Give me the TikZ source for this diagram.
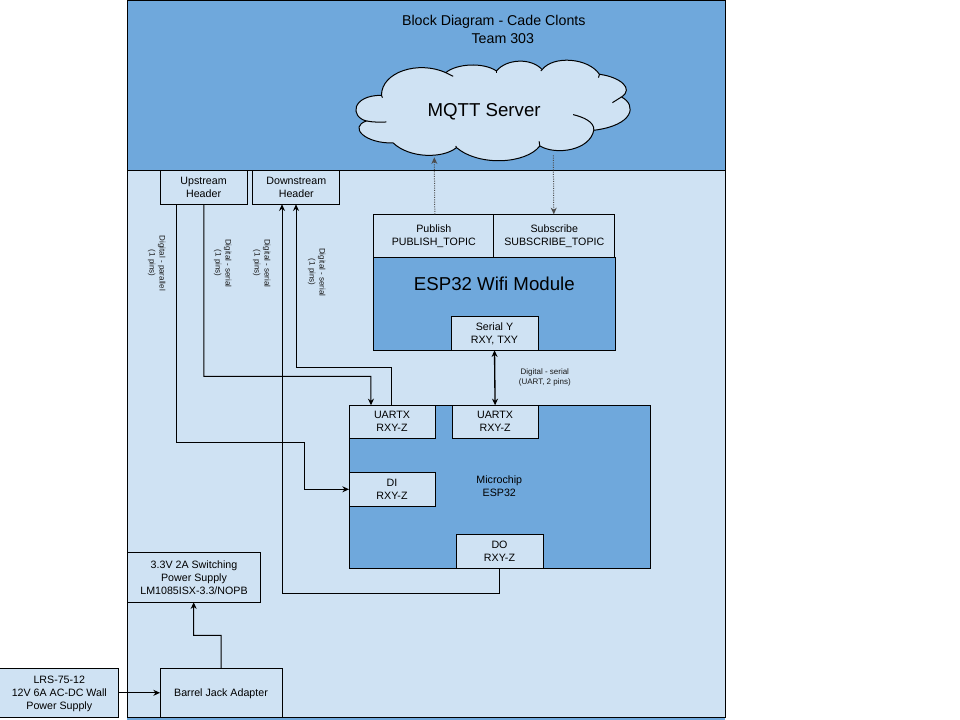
\documentclass[tikz,border=0pt]{standalone}
\usepackage{fontspec}
\setmainfont{Liberation Sans}
\usetikzlibrary{arrows.meta, calc}
\definecolor{band_dark}{HTML}{6FA8DC}
\definecolor{band_light}{HTML}{CFE2F3}
\tikzset{
    box_light/.style={
        rectangle, draw=black, line width=0.75pt, fill=band_light,
        inner sep=0pt, outer sep=0pt,
        align=center, font=\fontsize{8}{9.75}\selectfont
    },
    box_dark/.style={
        box_light, fill=band_dark
    },
    pipe_arrow/.style={
        -{Stealth[length=5pt,width=4.5pt]}, draw=black, line width=0.75pt
    },
    dot_arrow/.style={
        pipe_arrow, draw=black!70, densely dotted
    },
    lbl/.style={
        align=center, inner sep=0pt, font=\fontsize{6}{7.5}\selectfont, text=black!90
    },
    lbl_side/.style={
        lbl, rotate=-90
    },
    big_text/.style={
        inner sep=0pt, font=\fontsize{14}{16}\selectfont
    },
    title_text/.style={
        inner sep=0pt, font=\fontsize{10.67}{13}\selectfont
    }
}

\begin{document}
\begin{tikzpicture}[x=0.75pt, y=-0.75pt]
    \useasboundingbox (0.2,-0.3) rectangle (960.2,719.7);

    % bands
    \node[box_dark, draw=none, minimum width=598*0.75pt, minimum height=3*0.75pt] (foot_band) at (426.2,718.5) {};
    \node[box_dark, minimum width=598*0.75pt, minimum height=170*0.75pt] (top_band) at (426.2,85) {};
    \node[box_light, minimum width=598*0.75pt, minimum height=547*0.75pt] (low_band) at (426.2,443.5) {};

    \node[title_text] (title) at (494,22) {Block Diagram - Cade Clonts};
    \node[title_text] (team) at (503,38.5) {Team 303};

    % cloud, traced in 3x units
    \begin{scope}[shift={(340,0)}, x=0.25pt, y=-0.25pt]
        \draw[fill=band_light, line width=0.75pt]
            (125,285) .. controls (125,215) and (235,180) .. (318,217)
            .. controls (350,190) and (430,185) .. (470,212)
            .. controls (500,175) and (575,172) .. (607,208)
            .. controls (640,165) and (745,172) .. (779,222)
            .. controls (840,230) and (884,265) .. (845,290)
            .. controls (892,315) and (882,375) .. (762,390)
            .. controls (750,450) and (650,466) .. (600,437)
            .. controls (560,490) and (420,500) .. (350,442)
            .. controls (310,475) and (210,475) .. (160,428)
            .. controls (75,430) and (26,380) .. (80,362)
            .. controls (30,350) and (35,285) .. cycle;
        \draw[line width=0.75pt] (318,217) -- (340,228);
        \draw[line width=0.75pt] (470,212) -- (470,218);
        \draw[line width=0.75pt] (607,208) -- (603,212);
        \draw[line width=0.75pt] (779,222) -- (776,232);
        \draw[line width=0.75pt] (845,290) -- (818,307);
        \draw[line width=0.75pt] (762,390) .. controls (765,365) and (730,350) .. (700,343);
        \draw[line width=0.75pt] (600,437) -- (598,423);
        \draw[line width=0.75pt] (350,442) -- (348,437);
        \draw[line width=0.75pt] (80,362) .. controls (100,366) and (120,366) .. (140,365);
        \draw[line width=0.75pt] (125,285) -- (128,292);
    \end{scope}
    \node[big_text] (mqtt) at (484.3,111) {MQTT Server};
    \coordinate (cloud_in) at (434.5,157);
    \coordinate (cloud_out) at (553.5,155);

    % headers
    \node[box_light, minimum width=87*0.75pt, minimum height=34*0.75pt] (upstream) at (203.8,187) {Upstream\\Header};
    \node[box_light, minimum width=87*0.75pt, minimum height=34*0.75pt] (downstream) at (296.5,187) {Downstream\\Header};

    % wifi module
    \node[box_dark, minimum width=241.4*0.75pt, minimum height=93*0.75pt] (wifi) at (494.7,303.5) {};
    \node[big_text] (wifi_txt) at (494.5,284) {ESP32 Wifi Module};
    \node[box_light, minimum width=120*0.75pt, minimum height=43*0.75pt] (publish) at (434,235.5) {Publish\\PUBLISH\_TOPIC};
    \node[box_light, minimum width=121*0.75pt, minimum height=43*0.75pt] (subscribe) at (554.5,235.5) {Subscribe\\SUBSCRIBE\_TOPIC};
    \node[box_light, text depth=-4pt, minimum width=87*0.75pt, minimum height=34*0.75pt] (serial_y) at (494.7,333) {Serial Y\\RXY, TXY};

    % microchip
    \node[box_dark, minimum width=301*0.75pt, minimum height=163*0.75pt] (micro) at (499.8,486.5) {};
    \node[box_light, draw=none, fill=none] (micro_txt) at (499.5,486) {Microchip\\ESP32};
    \node[box_light, text depth=-2pt, minimum width=86*0.75pt, minimum height=33*0.75pt] (uart_a) at (392.2,421.5) {UARTX\\RXY-Z};
    \node[box_light, text depth=-2pt, minimum width=86*0.75pt, minimum height=33*0.75pt] (uart_b) at (495.3,421.5) {UARTX\\RXY-Z};
    \node[box_light, minimum width=86*0.75pt, minimum height=34*0.75pt] (di) at (392.2,489) {DI\\RXY-Z};
    \node[box_light, text depth=0pt, minimum width=87*0.75pt, minimum height=34*0.75pt] (do) at (499.7,551) {DO\\RXY-Z};

    % power
    \node[box_light, minimum width=133.6*0.75pt, minimum height=50*0.75pt] (supply) at (194.2,577) {3.3V 2A Switching\\Power Supply\\LM1085ISX-3.3/NOPB};
    \node[box_light, text depth=-2.5pt, minimum width=122*0.75pt, minimum height=49*0.75pt] (barrel) at (221.2,692.5) {Barrel Jack Adapter};
    \node[box_light, text depth=-2.5pt, minimum width=119*0.75pt, minimum height=49*0.75pt] (wall) at (59.5,692.5) {LRS-75-12\\12V 6A AC-DC Wall\\Power Supply};

    % labels
    \node[lbl_side] (lbl_par) at (157,263) {Digital - parallel\\(1 pins)};
    \node[lbl_side] (lbl_up) at (223,263) {Digital - serial\\(1 pins)};
    \node[lbl_side] (lbl_down) at (262,263) {Digital - serial\\(1 pins)};
    \node[lbl_side] (lbl_tx) at (317,272) {Digital - serial\\(1 pins)};
    \node[lbl] (lbl_uart) at (545,377) {Digital - serial\\(UART, 2 pins)};

    % connectors
    \draw[dot_arrow] ($(publish.north west)+(61,0)$) -- (cloud_in);
    \draw[dot_arrow] (cloud_out) -- ($(subscribe.north west)+(60,0)$);
    \draw[pipe_arrow, <->, >={Stealth[length=5pt,width=4.5pt]}, line width=1pt] (serial_y.south) -- (uart_b.north);
    \draw[pipe_arrow] ($(upstream.south west)+(16,0)$) -- ++(0,238) -- ++(128.5,0) -- ++(0,47) -- (di.west);
    \draw[pipe_arrow] ($(upstream.south west)+(43.7,0)$) -- ++(0,172) -- ++(167,0) -- ($(uart_a.north west)+(22,0)$);
    \draw[pipe_arrow] ($(uart_a.north west)+(42,0)$) -- ++(0,-38) -- ++(-95,0) -- ($(downstream.south west)+(43.2,0)$);
    \draw[pipe_arrow] (do.south) -- ++(0,25) -- ++(-217.5,0) -- ($(downstream.south west)+(29.2,0)$);
    \draw[pipe_arrow] (barrel.north) -- ++(0,-33) -- ++(-27.5,0) -- ($(supply.south west)+(66.5,0)$);
    \draw[pipe_arrow] (wall.east) -- (barrel.west);

\end{tikzpicture}
\end{document}
